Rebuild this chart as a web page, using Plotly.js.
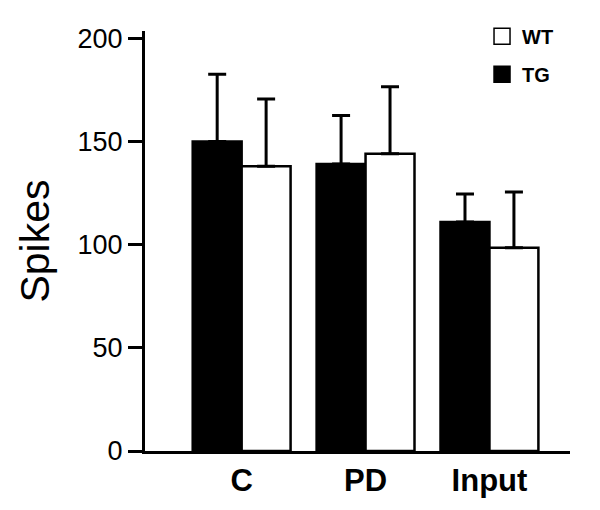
<!DOCTYPE html>
<html>
<head>
<meta charset="utf-8">
<script src="https://cdn.plot.ly/plotly-3.0.1.min.js"></script>
<style>html,body{margin:0;padding:0;background:#fff;}#chart{width:600px;height:510px;}</style>
</head>
<body>
<div id="chart"></div>
<script>
const categories = ["C", "PD", "Input"];
const tgValues = [150, 139, 111];
const tgErrors = [32.5, 23.5, 13.5];
const wtValues = [138, 144, 98.5];
const wtErrors = [32.5, 32.5, 27];
const yTickVals = [0, 50, 100, 150, 200];
const seriesNames = ["TG", "WT"];

const font = "Liberation Sans, Arial, sans-serif";
const errStyle = {type: "data", symmetric: false, color: "#000", thickness: 3, width: 9};

const data = [
  {type: "bar", name: seriesNames[0], x: categories, y: tgValues, showlegend: false,
   marker: {color: "#000", line: {color: "#000", width: 2.5}},
   error_y: Object.assign({array: tgErrors, arrayminus: [0,0,0]}, errStyle)},
  {type: "bar", name: seriesNames[1], x: categories, y: wtValues, showlegend: false,
   marker: {color: "#fff", line: {color: "#000", width: 2.5}},
   error_y: Object.assign({array: wtErrors, arrayminus: [0,0,0]}, errStyle)},
  {type: "scatter", mode: "markers", name: seriesNames[1], x: [null], y: [null], legendgroup: "a",
   marker: {symbol: "square", size: 18, color: "#fff", line: {color: "#000", width: 1.5}}},
  {type: "scatter", mode: "markers", name: seriesNames[0], x: [null], y: [null], legendgroup: "b",
   marker: {symbol: "square", size: 18, color: "#000", line: {color: "#000", width: 1.5}}}
];

const layout = {
  width: 600, height: 510,
  margin: {l: 145, r: 30, t: 31, b: 59},
  paper_bgcolor: "#fff", plot_bgcolor: "#fff",
  font: {family: font, color: "#000"},
  bargap: 0.21, bargroupgap: 0, barmode: "group",
  showlegend: true,
  legend: {x: 0.793, y: 1.034, xanchor: "left", yanchor: "top", traceorder: "grouped",
           tracegroupgap: 9, bgcolor: "rgba(0,0,0,0)",
           font: {family: font, size: 20, weight: "bold", color: "#000"}},
  xaxis: {type: "category", range: [-0.78, 2.65], showline: true, linewidth: 3, linecolor: "#000",
          ticks: "", showgrid: false, zeroline: false,
          tickfont: {family: font, size: 31, weight: "bold", color: "#000"}},
  yaxis: {range: [0, 203.5], tickvals: yTickVals, ticktext: yTickVals.map(String),
          showline: true, linewidth: 3, linecolor: "#000", ticks: "outside", ticklen: 14, tickwidth: 3,
          tickcolor: "#000", showgrid: false, zeroline: false,
          tickfont: {family: font, size: 27, color: "#000"},
          title: {text: "Spikes", font: {family: font, size: 41, color: "#000"}, standoff: 16}}
};

Plotly.newPlot("chart", data, layout, {displayModeBar: false, staticPlot: true});
</script>
</body>
</html>
